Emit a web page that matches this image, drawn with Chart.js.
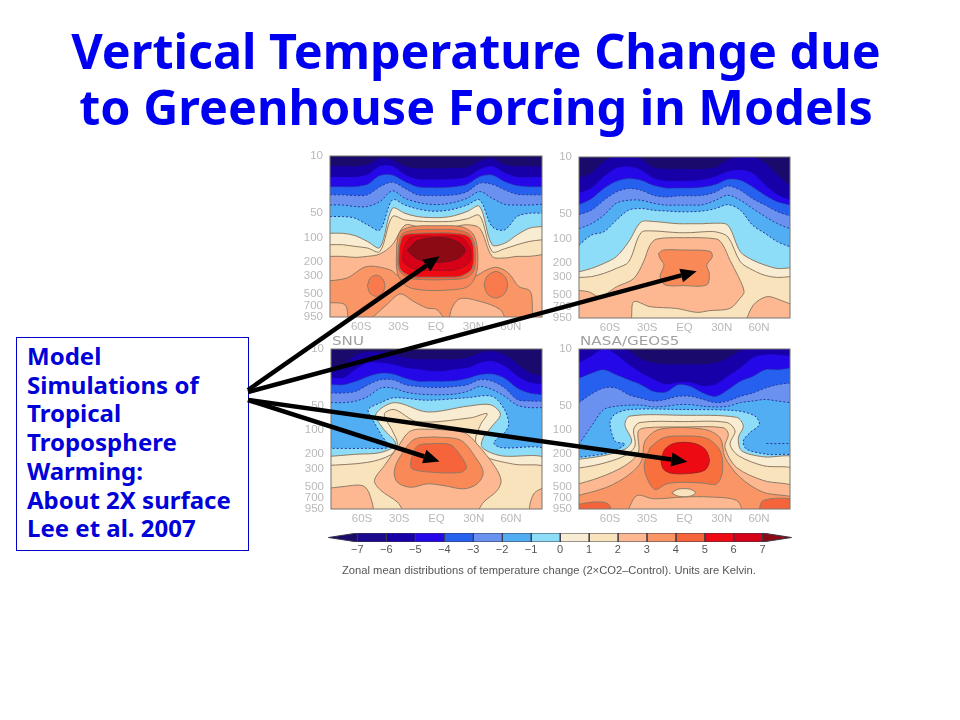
<!DOCTYPE html>
<html><head><meta charset="utf-8">
<script src="https://cdn.jsdelivr.net/npm/chart.js@4"></script>
<style>
html,body{margin:0;padding:0;background:#fff;width:960px;height:720px;overflow:hidden}
canvas{position:absolute;filter:blur(0.45px)}
#title{position:absolute;left:-4px;top:22px;width:960px;text-align:center;font:bold 48.5px/56px "Noto Sans",sans-serif;color:#0000f0;white-space:nowrap}
#box{position:absolute;left:16px;top:337px;width:221px;height:208px;border:1px solid #0000c8;padding-left:10px;padding-top:4px;font:bold 24px/28.7px "Noto Sans",sans-serif;color:#0000d8;white-space:nowrap}
#caption{position:absolute;left:342px;top:564px;font:11.2px "Liberation Sans",sans-serif;color:#555;white-space:nowrap;filter:blur(0.3px)}
.lab{position:absolute;top:334px;font:12px "DejaVu Sans",sans-serif;color:#a0a0a0;white-space:nowrap;filter:blur(0.4px);transform:scaleX(1.26);transform-origin:left top}
svg{position:absolute;left:0;top:0}
</style></head><body>
<div id="title">Vertical Temperature Change due<br>to Greenhouse Forcing in Models</div>
<div id="box">Model<br>Simulations of<br>Tropical<br>Troposphere<br>Warming:<br>About 2X surface<br>Lee et al. 2007</div>
<div class="lab" style="left:332px">SNU</div>
<div class="lab" style="left:580px">NASA/GEOS5</div>
<div id="caption">Zonal mean distributions of temperature change (2×CO2–Control). Units are Kelvin.</div>
<canvas id="c1"></canvas><canvas id="c2"></canvas><canvas id="c3"></canvas><canvas id="c4"></canvas><canvas id="cb"></canvas>
<svg id="ov" width="960" height="720"></svg>
<script>
// shared axes
const latGrid=[-85,-75,-65,-55,-45,-35,-25,-15,-5,5,15,25,35,45,55,65,75,85];
const pressureTicks=[10,50,100,200,300,500,700,950];
const latTicks=[-60,-30,0,30,60];
const latLabels=["60S","30S","EQ","30N","60N"];
const colorEdges=[-8,-7,-6,-5,-4,-3,-2,-1,0,1,2,3,4,5,6,7,8];
const colorBands=["#1a0a6c","#1c0a8e","#1800a8","#2408e8","#2560ee","#6a90f0","#52aef2","#8ddcf8","#f8ecd2","#f9e3bd","#fdb892","#fa9566","#f5643a","#ee0a12","#d60018","#8c0a14"];
const colorTicks=[-7,-6,-5,-4,-3,-2,-1,0,1,2,3,4,5,6,7];

// Panel A (upper left): contour pressure along latGrid
const a1=[13.5,13.5,13.6,12.9,10.9,11.3,13.6,14.4,14.4,14.4,14.2,13.9,11.7,10.9,12.9,13.6,13.6,13.6];
const a2=[18.4,18.4,18.4,17.1,13.5,13.5,17.1,19.5,19.7,19.7,19.3,18.4,14.8,13.5,16.3,18.4,18.4,18.4];
const a3=[23.8,23.8,23.8,22.3,17.4,17.1,20.6,23.8,24.4,24.4,23.8,22.3,17.9,17.1,20.6,23.1,23.8,23.8];
const a4=[30,30,30.6,30,23.8,21,24.9,30,30.6,30.6,30,27.4,21.6,22.3,26,29.5,30,30];
const a5=[40,40,41.7,41.7,36.3,26.8,33,37,39.2,39.2,37,33,27.4,33,39.2,40,40,39.2];
const a6=[55.5,55.5,58,70,81,34.6,40,44.6,47.3,47.3,44.6,40,34.6,73.5,81,55.5,50.5,50.5];
const a7=[89,89,95,112,133,44,50.5,55.5,57,57,54,48,41.7,123,118,93,77,73.5];
const a8=[123,123,129,135,149,55.5,61,63,64,64,63,59,54,149,138,123,112,107];
const a9=[171,171,176,171,160,123,71,73.5,77,77,73.5,70,77,171,179,171,171,163];
const aSalmon=[[-90,347],[-71.6,316],[-55.6,228],[-36.8,250],[-28.8,302],[30,302],[40.8,250],[48.9,233],[58.2,275],[66.3,400],[75.6,460],[77.5,890],[78,1100],[58.2,1100],[51.5,770],[35.5,612],[19.4,565],[12.7,740],[10,1100],[8.7,1100],[0.7,770],[-7.4,736],[-18,612],[-28.8,495],[-39.5,670],[-56.9,1100],[-69,1100],[-73,670],[-90,600]];
const aBlobL=[[-55,392],[-53,320],[-48,291],[-43,320],[-41,392],[-43,480],[-48,530],[-53,480]];
const aBlobR=[[38.6,380],[41,300],[48,262],[55,300],[57.4,380],[55,490],[48,555],[41,490]];
const aCore1=[[-31.5,123],[-28.8,85],[-18,73.5],[0,72],[19.4,73.5],[28.8,87],[32.8,123],[32.8,262],[26,398],[8.7,444],[-10,444],[-23.4,398],[-31,275]];
const aCore2=[[-30,123],[-27,90],[-16,81],[0,80],[17,81],[27,92],[31,123],[31,240],[25,310],[8,330],[-10,330],[-23,310],[-30,240]];
const aCore3=[[-29.6,130],[-26,95],[-15,89],[0,88],[15,89],[26,97],[30,130],[29,240],[20,300],[8,308],[-8,308],[-20,300],[-29,240]];
const aCore4=[[-26,135],[-20,100],[0,97],[20,100],[27,135],[27,200],[15,250],[0,252],[-15,250],[-26,200]];
const aCore5=[[-23,145],[-16,112],[-5,102],[8,102],[18,115],[23.4,145],[18,180],[7,200],[-6,200],[-16,180]];

// Panel B (upper right)
const b1=[18.4,16,11.5,10,10,10.7,13.6,14.2,14.2,14.2,14.2,13.6,11,10,10,12,16.8,23];
const b2=[28,24.4,17.6,13.9,13.3,14.6,18.4,19.9,19.9,19.9,19.3,17.6,15.3,14.6,16,22.3,29.5,34];
const b3=[38.5,32.5,24.4,19.9,18.4,19.3,22.3,24,24,24,23.3,21.8,18.8,19.3,23.3,29.5,35.5,39];
const b4=[51,45,34,26.9,24.4,25.6,29.5,31,30,30,29.5,26.9,22.7,25.6,32.5,39,47,53];
const b5=[76,66,52,37,34,34,37,39,39,39,38.5,34,29.5,34,43,54,66,76];
const b6=[121,91,83,60,45,43,45,46,47,47,46,43,38.5,45,69,87,110,127];
const b7=[257,234,203,168,110,63,62,64,66,66,66,65,69,146,185,213,234,230];
const b8=[302,295,269,234,194,85,81,83,85,85,83,83,96,194,245,285,302,295];
const bPeach=[[-90,431],[-77.5,452],[-68,520],[-54.6,392],[-41,312],[-33,194],[-27.8,121],[-22.4,102],[-1,98],[26,102],[31,121],[36.6,185],[43.4,295],[48,452],[44.7,545],[36.6,725],[20.5,770],[9.8,810],[-6.3,725],[-27.8,690],[-41,600],[-45,1100],[-90,1100]];
const bLens=[[48.7,1100],[55.5,658],[66.2,520],[77,572],[90,725],[90,1100]];
const bOrange=[[-21,153],[-17,139],[-1,139],[20.5,144],[22.4,168],[17.9,213],[20,269],[17.9,372],[-1,380],[-15.7,372],[-19.7,295],[-16.5,213],[-19.7,176]];

// Panel C (SNU)
const c1d=[16.5,15.7,12,11,11,12,13,13.6,13.6,13.6,13.6,13,11.3,10.8,11.9,15.4,19.9,21.8];
const c2d=[23,23,18,15,15,15.7,17.3,18,19,19,18,17.3,15,14.3,16.5,21.8,26.3,27.6];
const c3d=[27.6,27.6,25,21.8,19.9,20.4,23,25,25,25,24.7,23,20.8,20.4,23,30.4,35,36.7];
const c4d=[35,35,33.4,27.6,24,24,27.6,29,29.8,29.8,29,27.6,24,25,30.4,42,44,44];
const c5d=[46,46,44,38.5,30.4,30.4,34,36,36.7,36.7,36,33.4,29,31.8,38.5,49.5,53,53];
const cLight=[[-90,169],[-55.6,169],[-39,163],[-44.8,113],[-51.5,74.5],[-55,56],[-44.8,46],[-34,40],[-7.4,43],[24.8,40],[44.8,38.5],[54.8,56],[58.2,86],[54.8,108],[46.2,144],[51.5,165],[90,185],[90,1100],[-90,1100]];
const cCream=[[-90,215],[-65,200],[-44.8,190],[-32.8,150],[-43.5,94],[-48.9,64],[-34,46],[-7.4,60],[24.8,51],[43.5,49],[51.5,64],[44.8,90],[37.6,125],[36.8,165],[51.5,208],[90,236],[90,1100],[-90,1100]];
const cCream2=[[-90,277],[-55.6,252],[-36.8,203],[-31.5,150],[-35.5,103],[-42,64],[-34,56],[-15.4,79],[27.4,71],[40.8,63],[35.5,86],[31.5,137],[38,208],[62,265],[90,305],[90,1100],[-90,1100]];
const cPeach=[[-2,98],[-20.8,103],[-31.5,165],[-42,277],[-50,422],[-44.8,560],[-31.5,780],[-23.4,1100],[30,1100],[38,780],[48.9,560],[52,422],[47.5,291],[32.8,150],[22,108]];
const cOrange=[[-2,122],[-18,131],[-28.8,208],[-34,320],[-31.5,444],[-20.8,512],[-7.4,464],[6,488],[22,535],[32.8,464],[37.6,335],[31.5,219],[19.4,134]];
const cRed=[[-2,147],[-15.4,158],[-20.8,252],[-19.4,305],[-2,335],[19.4,335],[24.2,291],[19.4,208],[11.4,153]];
const cLeft=[[-90,535],[-74.3,500],[-59.6,488],[-54,620],[-52.3,1100],[-90,1100]];
const cRight=[[90,488],[78.3,620],[75.6,1100],[90,1100]];

// Panel D (NASA/GEOS5)
const d1=[9,9,9,9,10.6,13.6,15,15.7,15.7,15.7,15.7,15,13,10.6,9,9,9,9];
const d2=[15,12.4,10,11.9,15.7,19.9,24,27.6,26.3,26.3,29,27.6,21.8,17.3,13,11.9,11.9,12.4];
const d3=[23,19.9,18,20.8,24,27.6,33.4,34,27.6,29,35,38.5,31.8,25,21.8,18,18,17.3];
const d4=[46,36,30.4,30.4,36.7,40.5,44,42,38.5,38.5,42,46,44,38.5,35,30.4,27.6,26.3];
const d5=[150,90,56,51,49.5,49.5,52,51,48.7,48.7,51,52,51,46,44,42,44,46];
const dLight=[[-90,223],[-60,190],[-48,150],[-56,137],[-60,81],[-56,64],[-43.9,56],[-1,56],[42,58],[56.8,67.5],[60.3,86],[52.8,108],[47.4,137],[50,173],[66.2,200],[90,223],[90,1100],[-90,1100]];
const dCream=[[-90,236],[-65.4,208],[-48,173],[-42.6,137],[-48,86],[-43.9,67.5],[-1,66],[42,70],[47.4,90],[43.4,125],[46,181],[63.5,215],[90,229],[90,1100],[-90,1100]];
const dCream2=[[-90,305],[-68,265],[-48,208],[-39.9,158],[-41,98],[-35.8,81],[-1,79],[34,81],[40.7,103],[36.7,150],[43.4,208],[63.5,277],[90,320],[90,1100],[-90,1100]];
const dPeach=[[-90,488],[-68,385],[-48,277],[-37.2,190],[-37.2,103],[-30.5,94],[-1,92],[31.3,94],[35.3,113],[32.6,165],[42,291],[63.5,422],[90,520],[90,1100],[-90,1100]];
const dSalmon=[[-90,675],[-62.7,512],[-43.9,350],[-34.5,240],[-31.8,137],[-19.7,98],[15.2,98],[28.6,125],[32.6,219],[44.7,385],[63.5,590],[90,710],[90,1100],[50,1100],[42,745],[20.5,675],[-1,675],[-25,710],[-38.5,650],[-49.3,1100],[-90,1100]];
const dOrange=[[-27.8,165],[-17,125],[-1,119],[17.9,127],[28.6,181],[30.7,320],[25.9,465],[15.2,455],[-1,444],[-14.4,465],[-23.8,545],[-30.5,385],[-32.4,265]];
const dRed=[[-19,240],[-15.7,173],[-7.7,146],[7.1,146],[16.5,173],[20,240],[16.5,313],[4.4,344],[-10.3,344],[-17,305]];
const dLens=[[-10.3,600],[-5,540],[4.4,540],[9,600],[4.4,660],[-5,660]];
const dLeft=[[-90,860],[-73.4,780],[-61.4,820],[-60,1100],[-90,1100]];
const dRight=[[59.5,1100],[63.5,745],[90,745],[90,1100]];
const dMark=[[66,147],[72,148],[78,147],[84,147]];

// Arrow tips in each panel's own coordinates [lat, pressure]
const arrowTips=[[2.8,171],[9.8,257],[2.8,245],[2.3,247]];

const [NAVY,DARK,DEEP,VIOLET,BLUE,PERI,SKY,LIGHT,CREAM,CREAM2,PEACH,SALMON,ORANGE,RED,CRIM,MAROON]=colorBands;
const WARM="#8f7a64", COOL="#26389a";

function front(vals,color,line,dash){return {type:'line',label:'band',data:latGrid.map((x,i)=>({x,y:vals[i]})),backgroundColor:color,borderColor:line,borderWidth:1,borderDash:dash?[2,2]:[],fill:'start',pointRadius:0,tension:0.32};}
function poly(pts,color,line,dash,tension){const d=pts.concat([pts[0]]).map(p=>({x:p[0],y:p[1]}));return {type:'line',label:'band',data:d,backgroundColor:color,borderColor:line,borderWidth:1,borderDash:dash?[2,2]:[],fill:'shape',pointRadius:0,tension:tension===undefined?0.32:tension};}

const panels=[
 {id:'c1',box:[330,156,541.7,317],layers:[
  front(a1,DEEP,DEEP),front(a2,VIOLET,VIOLET),front(a3,BLUE,COOL,1),front(a4,PERI,COOL,1),front(a5,SKY,COOL,1),front(a6,LIGHT,COOL,1),
  front(a7,CREAM,WARM),front(a8,CREAM2,WARM),front(a9,PEACH,WARM),
  poly(aSalmon,SALMON,WARM),poly(aBlobL,"#f97a4c",WARM),poly(aBlobR,"#f97a4c",WARM),
  poly(aCore1,"#f9855a",WARM),poly(aCore2,ORANGE,WARM),poly(aCore3,RED,WARM),poly(aCore4,CRIM,"#a01020"),poly(aCore5,MAROON,"#701020")]},
 {id:'c2',box:[579,156.5,790,317],layers:[
  front(b1,DEEP,DEEP),front(b2,VIOLET,VIOLET),front(b3,BLUE,COOL,1),front(b4,PERI,COOL,1),front(b5,SKY,COOL,1),front(b6,LIGHT,COOL,1),
  front(b7,CREAM,WARM),front(b8,CREAM2,WARM),
  poly(bPeach,PEACH,WARM),poly(bLens,PEACH,WARM),poly(bOrange,"#f98a58",WARM)]},
 {id:'c3',box:[330.5,349,541.7,509.3],layers:[
  front(c1d,DEEP,DEEP),front(c2d,VIOLET,VIOLET),front(c3d,BLUE,COOL,1),front(c4d,PERI,COOL,1),front(c5d,SKY,COOL,1),
  poly(cLight,LIGHT,COOL,1),poly(cCream,CREAM,WARM),poly(cCream2,CREAM2,WARM),
  poly(cLeft,PEACH,WARM),poly(cRight,PEACH,WARM),
  poly(cPeach,PEACH,WARM),poly(cOrange,"#f98a58",WARM),poly(cRed,ORANGE,WARM)]},
 {id:'c4',box:[579,349,790,509.3],layers:[
  front(d1,DEEP,DEEP),front(d2,VIOLET,VIOLET),front(d3,BLUE,COOL,1),front(d4,PERI,COOL,1),front(d5,SKY,COOL,1),
  poly(dLight,LIGHT,COOL,1),poly(dCream,CREAM,WARM),poly(dCream2,CREAM2,WARM),poly(dPeach,PEACH,WARM),poly(dSalmon,SALMON,WARM),
  poly(dLeft,ORANGE,WARM),poly(dRight,ORANGE,WARM),poly(dLens,CREAM2,WARM),poly(dOrange,"#f7703e",WARM),poly(dRed,RED,"#a02020",0),
  {type:'line',label:'band',data:dMark.map(p=>({x:p[0],y:p[1]})),borderColor:COOL,borderWidth:1,borderDash:[2,2],fill:false,pointRadius:0}]}
];

const frame={id:'frame',
 beforeDatasetsDraw(ch,a,o){const r=ch.chartArea,c=ch.ctx;c.save();c.fillStyle=o.base;c.fillRect(r.left,r.top,r.width,r.height);c.restore();},
 afterDatasetsDraw(ch,a,o){const r=ch.chartArea,c=ch.ctx;c.save();c.strokeStyle='#77756f';c.lineWidth=1;c.strokeRect(r.left,r.top,r.width,r.height);c.restore();}};

const charts=panels.map(p=>{
 const [l,t,r,b]=p.box, LW=40,TP=14,RP=10,BH=24;
 const cv=document.getElementById(p.id);
 cv.style.left=(l-LW)+'px';cv.style.top=(t-TP)+'px';
 cv.width=Math.round(r-l+LW+RP);cv.height=Math.round(b-t+TP+BH);
 cv.style.width=cv.width+'px';cv.style.height=cv.height+'px';
 const tickFont={family:'"Liberation Sans"',size:11.5};
 const ch=new Chart(cv,{type:'line',data:{datasets:p.layers.slice().reverse()},plugins:[frame],options:{
  responsive:false,animation:false,devicePixelRatio:1,parsing:true,
  layout:{padding:{top:TP,right:RP,left:0,bottom:0}},
  plugins:{legend:{display:false},tooltip:{enabled:false},frame:{base:NAVY},title:{display:false}},
  scales:{
   x:{type:'linear',min:-85,max:85,grid:{display:false,drawTicks:false},border:{display:false},
      afterBuildTicks:a=>{a.ticks=latTicks.map(v=>({value:v}));},
      afterFit:a=>{a.height=BH;},
      ticks:{autoSkip:false,maxRotation:0,padding:3,color:'#b9b9b9',font:tickFont,callback:v=>latLabels[latTicks.indexOf(v)]}},
   y:{type:'logarithmic',reverse:true,min:10,max:950,grid:{display:false,drawTicks:false},border:{display:false},
      afterBuildTicks:a=>{a.ticks=pressureTicks.map(v=>({value:v}));},
      afterFit:a=>{a.width=LW;},
      ticks:{autoSkip:false,padding:7,color:'#b9b9b9',font:tickFont,callback:v=>String(v)}}
  }}});
 cv.style.top=(t-ch.chartArea.top)+'px';
 return ch;
});

// colour bar
(function(){
 const cv=document.getElementById('cb');
 cv.style.left='317px';cv.style.top='527px';cv.width=486;cv.height=32;cv.style.width='486px';cv.style.height='32px';
 const n=colorBands.length;
 const ds=colorBands.map((col,i)=>{
  const a=colorEdges[i],b=colorEdges[i+1];
  const pts=i===0?[[a,.5],[b,0],[b,1]]:i===n-1?[[a,0],[b,.5],[a,1]]:[[a,0],[b,0],[b,1],[a,1]];
  return poly(pts,col,'#3a3a4a',0,0);
 });
 new Chart(cv,{type:'line',data:{datasets:ds},options:{responsive:false,animation:false,devicePixelRatio:1,
  layout:{padding:{top:6,left:10,right:10,bottom:0}},
  plugins:{legend:{display:false},tooltip:{enabled:false}},
  scales:{
   x:{type:'linear',min:-8.05,max:8.05,grid:{display:false,drawTicks:false},border:{display:false},
      afterBuildTicks:a=>{a.ticks=colorTicks.map(v=>({value:v}));},
      afterFit:a=>{a.height=17;},
      ticks:{autoSkip:false,maxRotation:0,padding:1,color:'#555',font:{family:'"Liberation Sans"',size:11},callback:v=>String(v).replace('-','−')}},
   y:{type:'linear',min:0,max:1,display:false}
  }}});
})();

// arrows from the text box to each panel's warming core
(function(){
 const NS='http://www.w3.org/2000/svg',ov=document.getElementById('ov');
 const starts=[[248,390],[248,392],[248,400],[248,400]];
 charts.forEach((ch,i)=>{
  const cv=ch.canvas,ox=parseFloat(cv.style.left),oy=parseFloat(cv.style.top);
  const tx=ox+ch.scales.x.getPixelForValue(arrowTips[i][0]),ty=oy+ch.scales.y.getPixelForValue(arrowTips[i][1]);
  const [sx,sy]=starts[i],dx=tx-sx,dy=ty-sy,L=Math.hypot(dx,dy),ux=dx/L,uy=dy/L,H=16,W=7;
  const bx=tx-ux*H,by=ty-uy*H;
  const ln=document.createElementNS(NS,'line');
  ln.setAttribute('x1',sx);ln.setAttribute('y1',sy);ln.setAttribute('x2',bx);ln.setAttribute('y2',by);
  ln.setAttribute('stroke','#000');ln.setAttribute('stroke-width','4.5');ov.appendChild(ln);
  const pg=document.createElementNS(NS,'polygon');
  pg.setAttribute('points',`${tx},${ty} ${bx-uy*W},${by+ux*W} ${bx+uy*W},${by-ux*W}`);
  pg.setAttribute('fill','#000');ov.appendChild(pg);
 });
})();
</script>
</body></html>
